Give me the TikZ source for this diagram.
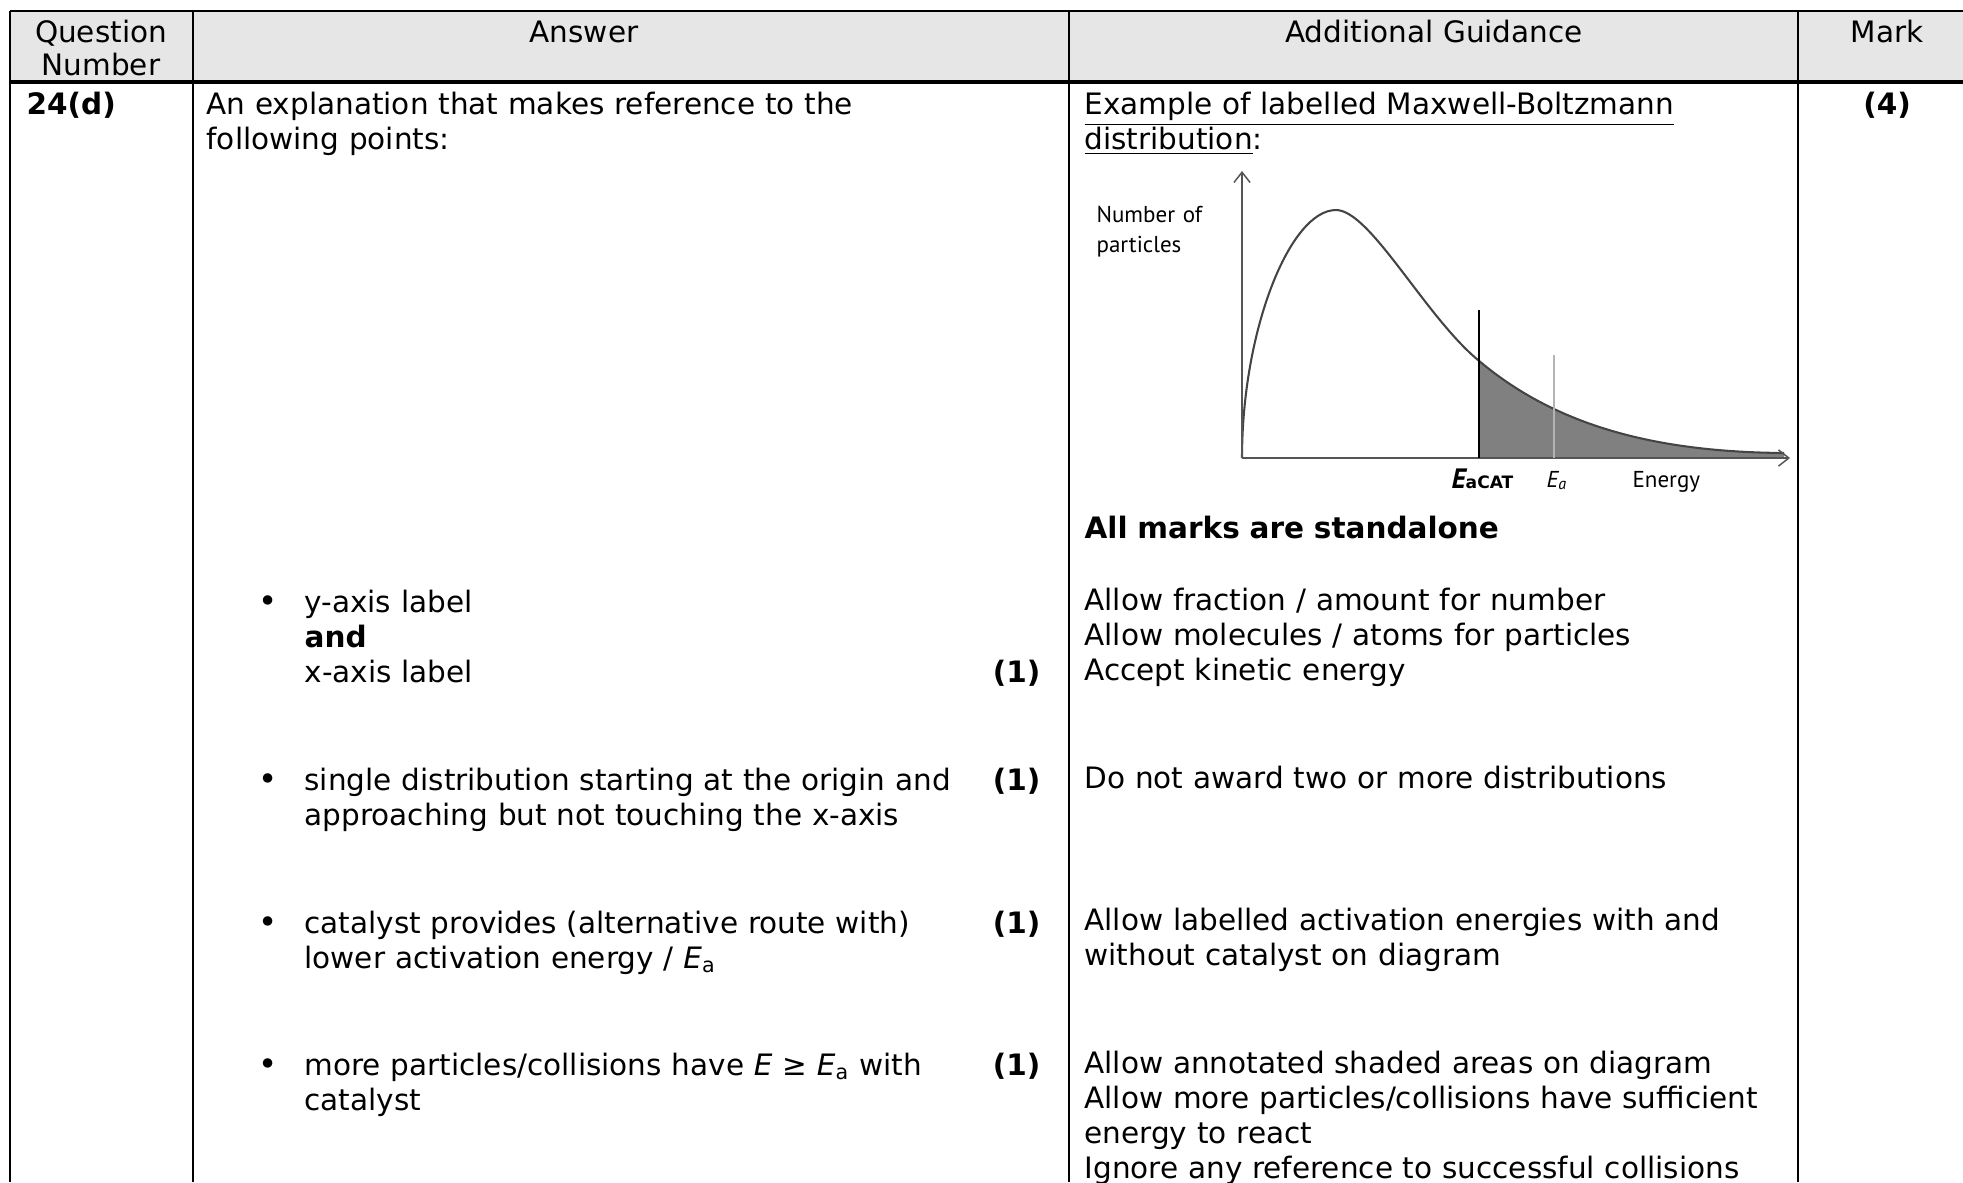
\documentclass[tikz,border=0pt]{standalone}
\usepackage{fontspec}
\setmainfont{DejaVu Sans}
\newfontfamily\graphfont{PT Sans}
\usetikzlibrary{arrows.meta}
\definecolor{headgray}{HTML}{E6E6E6}
\definecolor{curvegray}{HTML}{444444}
\definecolor{shadegray}{HTML}{808080}
\definecolor{axisgray}{HTML}{555555}
\definecolor{ealine}{HTML}{B4B4B4}
\tikzset{
  every node/.style={inner sep=0pt},
  cell/.style={anchor=base west, text width=#1, align=left, font=\fontsize{10}{11.87}\selectfont},
  cell/.default=260pt,
  head/.style={anchor=base, text width=#1, align=center, font=\fontsize{10}{11.5}\selectfont},
  head/.default=120pt,
  markbox/.style={anchor=base east, font=\fontsize{10}{11.87}\selectfont\bfseries},
  bul/.style={anchor=base, font=\fontsize{11}{11.87}\selectfont},
  rule/.style={line width=0.7pt},
  glabel/.style={anchor=base west, text width=60pt, align=left, font=\graphfont\fontsize{7.8}{10.5}\selectfont},
}

\begin{document}
\begin{tikzpicture}[x=0.339pt, y=-0.339pt]
\useasboundingbox (0,0) rectangle (1963,1182);
\clip (0,0) rectangle (1963,1182);

% header row
\fill[headgray] (10,11) rectangle (1963,82);
\draw[line width=0.8pt] (10,11) -- (1963,11);
\draw[line width=1.1pt] (10,82) -- (1963,82);
\foreach \x in {10,193,1069,1798}
  \draw[rule] (\x,11) -- (\x,1182);

\node[head=60pt] (qnum) at (101,42) {Question\\Number};
\node[head] (answer) at (584,42) {Answer};
\node[head] (guidance) at (1434,42) {Additional Guidance};
\node[head=60pt] (mark) at (1887,42) {Mark};

% question row
\node[cell=60pt] (qid) at (26,114) {\bfseries 24(d)};
\node[cell] (intro) at (206,114) {An explanation that makes reference to the\\following points:};
\node[cell] (example) at (1084,114) {\underline{Example of labelled Maxwell-Boltzmann}\\\underline{distribution}:};
\node[head=60pt, font=\fontsize{10}{11.87}\selectfont\bfseries] (total) at (1887,114) {(4)};

% Maxwell-Boltzmann sketch
\coordinate (origin) at (1242,458);
\coordinate (ytip) at (1242,171);
\coordinate (xtip) at (1790,458);
\coordinate (peak) at (1336,210);
\coordinate (cross) at (1478,360);
\coordinate (tail) at (1784,453);
\begin{scope}
  \clip (1479,150) rectangle (1800,458);
  \fill[shadegray] (origin) .. controls (1242,330) and (1290,210) .. (peak)
    .. controls (1370,210) and (1425,316) .. (cross)
    .. controls (1558,428) and (1660,452) .. (tail) -- (1784,458) -- cycle;
\end{scope}
\draw[curvegray, line width=0.7pt] (origin) .. controls (1242,330) and (1290,210) .. (peak)
  .. controls (1370,210) and (1425,316) .. (cross)
  .. controls (1558,428) and (1660,452) .. (tail);
\draw[axisgray, line width=0.5pt, -{Straight Barb[length=3.5pt, width=5.5pt]}] (origin) -- (ytip);
\draw[axisgray, line width=0.5pt, -{Straight Barb[length=3.5pt, width=5.5pt]}] (origin) -- (xtip);
\draw[line width=1pt] (1479,310) -- (1479,458);
\draw[ealine, line width=0.7pt] (1554,355) -- (1554,458);

\node[glabel] (ylab) at (1096,222) {Number of\\particles};
\node[glabel] (eacat) at (1451,488) {{\bfseries\itshape\fontsize{9.5}{10}\selectfont E}{\fontspec{DejaVu Sans}\bfseries\fontsize{5.8}{7}\selectfont aCAT}};
\node[glabel] (ea) at (1546,487) {\itshape E\textsubscript{a}};
\node[glabel] (energy) at (1632,487) {Energy};

% guidance column
\node[cell] (standalone) at (1084,538) {\bfseries All marks are standalone};
\node[cell] (guide1) at (1084,610) {Allow fraction / amount for number\\Allow molecules / atoms for particles\\Accept kinetic energy};
\node[cell] (guide2) at (1084,788) {Do not award two or more distributions};
\node[cell] (guide3) at (1084,930) {Allow labelled activation energies with and\\without catalyst on diagram};
\node[cell] (guide4) at (1084,1073) {Allow annotated shaded areas on diagram\\Allow more particles/collisions have sufficient\\energy to react\\Ignore any reference to successful collisions};

% answer column
\node[cell] (point1) at (304,612) {y-axis label\\\textbf{and}\\x-axis label};
\node[cell] (point2) at (304,790) {single distribution starting at the origin and\\approaching but not touching the x-axis};
\node[cell] (point3) at (304,933) {catalyst provides (alternative route with)\\lower activation energy / \textit{E}\textsubscript{a}};
\node[cell] (point4) at (304,1075) {more particles/collisions have \textit{E} ≥ \textit{E}\textsubscript{a} with\\catalyst};

\foreach \b/\m in {612/682, 790/790, 933/933, 1075/1075} {
  \node[bul] (bul\b) at (268,\b) {•};
  \node[markbox] (mk\b) at (1041,\m) {(1)};
}
\end{tikzpicture}
\end{document}
